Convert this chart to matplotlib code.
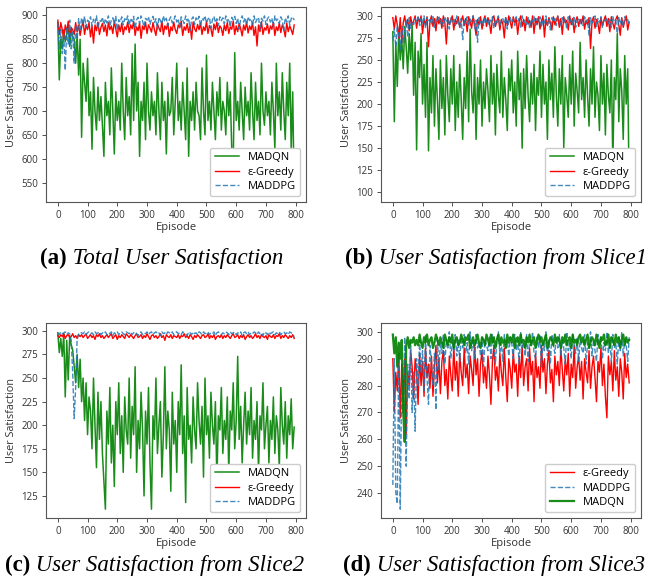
import numpy as np
import matplotlib
matplotlib.use("Agg")
import matplotlib.pyplot as plt

plt.rcParams['font.family'] = ['Open Sans', 'DejaVu Sans']

# episodes sampled every 5 steps
episodes = list(range(0, 800, 5))

# (a) total user satisfaction
total_madqn = [885, 765, 850, 830, 870, 845, 860, 880, 835, 870, 855, 850, 800, 860, 775, 850,
               645, 800, 760, 720, 810, 690, 740, 620, 770, 700, 660, 750, 680, 730, 670, 605,
               760, 690, 720, 650, 790, 700, 610, 740, 680, 720, 660, 800, 700, 640, 770, 690,
               730, 650, 820, 680, 840, 700, 760, 605, 720, 680, 760, 640, 800, 700, 660, 740,
               690, 720, 650, 780, 700, 640, 760, 680, 720, 610, 740, 690, 700, 770, 650, 720,
               800, 680, 720, 660, 760, 700, 640, 790, 605, 720, 680, 740, 660, 760, 700, 690,
               640, 790, 700, 650, 817, 680, 720, 660, 760, 700, 640, 740, 690, 770, 660, 720,
               700, 650, 760, 690, 740, 620, 590, 822, 680, 720, 660, 760, 700, 640, 750, 690,
               720, 660, 780, 700, 640, 760, 680, 720, 650, 800, 700, 670, 740, 690, 720, 650,
               760, 700, 620, 800, 690, 740, 660, 780, 700, 640, 760, 690, 800, 620, 740, 528]
total_greedy = [890, 860, 885, 870, 850, 880, 865, 888, 855, 875, 870, 860, 885, 865, 880, 858,
                875, 888, 860, 880, 870, 885, 855, 878, 842, 880, 868, 886, 860, 875, 883, 866,
                880, 857, 885, 870, 878, 862, 888, 872, 855, 880, 866, 884, 860, 876, 870, 886,
                864, 880, 872, 887, 858, 876, 868, 884, 852, 878, 870, 886, 862, 880, 874, 865,
                885, 870, 858, 882, 874, 866, 888, 860, 878, 871, 884, 856, 876, 868, 886, 870,
                862, 880, 874, 888, 858, 876, 869, 883, 864, 879, 850, 886, 872, 866, 881, 870,
                884, 860, 876, 868, 887, 862, 879, 872, 856, 882, 870, 886, 864, 878, 873, 858,
                880, 868, 885, 862, 876, 871, 888, 860, 878, 866, 883, 872, 857, 880, 869, 886,
                863, 878, 870, 884, 858, 876, 836, 880, 866, 887, 860, 874, 869, 882, 862, 878,
                871, 886, 858, 876, 868, 884, 864, 880, 872, 855, 884, 866, 878, 870, 860, 880]
total_maddpg = [885, 830, 870, 820, 860, 785, 875, 840, 890, 830, 865, 800, 880, 850, 893, 870,
                895, 882, 898, 875, 890, 886, 897, 878, 892, 884, 899, 872, 890, 887, 896, 880,
                893, 884, 899, 877, 890, 895, 882, 898, 869, 891, 886, 897, 880, 893, 888, 899,
                879, 894, 887, 898, 872, 891, 896, 883, 899, 888, 876, 894, 890, 897, 881, 892,
                898, 885, 893, 870, 896, 889, 882, 899, 887, 894, 878, 891, 897, 884, 890, 899,
                886, 893, 875, 897, 890, 883, 899, 888, 894, 868, 892, 897, 881, 895, 889, 898,
                877, 894, 890, 899, 884, 892, 896, 873, 891, 898, 885, 893, 879, 897, 889, 895,
                882, 899, 887, 893, 876, 896, 890, 898, 883, 894, 871, 892, 899, 886, 895, 880,
                897, 889, 893, 878, 899, 885, 892, 896, 870, 894, 888, 899, 881, 893, 897, 886,
                894, 876, 899, 889, 892, 883, 897, 890, 868, 895, 886, 899, 880, 893, 897, 890]

# (b) slice 1
s1_madqn = [282, 180, 270, 220, 285, 250, 275, 240, 288, 265, 235, 280, 250, 290, 210, 270,
            148, 260, 230, 280, 200, 245, 185, 270, 147, 230, 190, 255, 175, 240, 205, 160,
            250, 195, 230, 165, 255, 210, 180, 240, 200, 255, 170, 225, 185, 245, 205, 160,
            230, 195, 260, 180, 285, 215, 190, 245, 160, 230, 200, 250, 175, 225, 195, 240,
            215, 180, 255, 200, 235, 165, 245, 210, 190, 260, 185, 230, 205, 170, 240, 215,
            250, 190, 225, 175, 260, 205, 235, 150, 240, 195, 255, 210, 180, 235, 200, 245,
            170, 230, 210, 260, 185, 245, 200, 225, 160, 250, 205, 235, 185, 265, 210, 175,
            240, 200, 255, 150, 230, 210, 185, 245, 200, 260, 175, 235, 215, 190, 270, 205,
            230, 185, 250, 210, 175, 240, 200, 265, 185, 225, 210, 170, 255, 200, 235, 165,
            245, 210, 190, 250, 130, 230, 205, 280, 180, 240, 215, 160, 255, 200, 240, 99]
s1_greedy = [298, 285, 300, 290, 275, 298, 270, 292, 300, 288, 296, 283, 299, 290, 294, 300,
             286, 298, 293, 300, 280, 296, 290, 299, 265, 294, 300, 288, 297, 283, 299, 291,
             297, 286, 300, 292, 268, 298, 290, 295, 300, 284, 296, 291, 299, 287, 294, 300,
             289, 297, 282, 299, 293, 286, 300, 291, 278, 296, 290, 299, 285, 295, 300, 288,
             298, 292, 280, 297, 300, 288, 294, 299, 284, 296, 291, 275, 298, 289, 300, 293,
             286, 299, 292, 297, 279, 294, 300, 288, 296, 283, 299, 291, 295, 287, 300, 280,
             297, 290, 299, 285, 294, 300, 276, 296, 289, 298, 292, 284, 299, 290, 295, 300,
             287, 297, 279, 299, 292, 295, 284, 300, 290, 297, 281, 294, 299, 288, 296, 291,
             300, 285, 295, 290, 298, 263, 293, 299, 286, 296, 291, 280, 298, 289, 295, 300,
             288, 297, 282, 299, 292, 285, 296, 300, 290, 278, 298, 287, 294, 300, 284, 293]
s1_maddpg = [272, 285, 265, 290, 278, 262, 288, 270, 282, 295, 276, 298, 286, 293, 290, 297,
             294, 299, 289, 297, 292, 300, 286, 298, 293, 296, 290, 299, 287, 297, 294, 300,
             291, 296, 288, 299, 294, 297, 285, 298, 292, 296, 289, 300, 293, 287, 297, 273,
             296, 291, 299, 288, 297, 293, 300, 286, 295, 270, 298, 292, 296, 289, 299, 294,
             290, 297, 293, 299, 286, 296, 292, 300, 288, 295, 297, 291, 299, 285, 294, 298,
             292, 296, 289, 299, 294, 297, 287, 300, 292, 295, 290, 298, 286, 296, 293, 299,
             289, 297, 294, 299, 287, 295, 292, 300, 290, 296, 284, 298, 293, 297, 289, 299,
             295, 288, 298, 292, 296, 285, 299, 293, 297, 290, 300, 287, 295, 298, 291, 296,
             289, 299, 293, 296, 278, 298, 291, 295, 300, 288, 297, 292, 299, 286, 296, 294,
             298, 290, 296, 287, 299, 293, 295, 280, 298, 291, 297, 288, 299, 294, 296, 290]

# (c) slice 2
s2_madqn = [298, 277, 292, 273, 297, 230, 290, 248, 295, 285, 280, 262, 245, 275, 240, 270,
            225, 250, 205, 245, 190, 230, 215, 175, 250, 200, 155, 235, 185, 225, 170, 140,
            111, 215, 180, 240, 160, 200, 135, 225, 190, 245, 170, 210, 150, 230, 195, 180,
            250, 165, 220, 190, 262, 150, 205, 175, 235, 195, 125, 215, 180, 240, 160, 111,
            210, 185, 250, 170, 200, 225, 145, 190, 262, 175, 215, 195, 130, 235, 180, 205,
            150, 225, 190, 264, 170, 210, 118, 240, 185, 200, 160, 230, 195, 175, 245, 205,
            180, 220, 145, 250, 190, 210, 165, 235, 200, 180, 225, 140, 210, 195, 240, 170,
            205, 185, 230, 150, 215, 195, 245, 175, 205, 273, 185, 220, 160, 200, 235, 180,
            215, 190, 240, 165, 205, 185, 225, 150, 210, 195, 245, 175, 200, 220, 160, 205,
            185, 230, 170, 210, 195, 155, 240, 200, 180, 225, 165, 210, 190, 228, 175, 198]
s2_greedy = [295, 293, 296, 294, 297, 292, 295, 296, 293, 294, 297, 293, 295, 292, 296, 294,
             296, 293, 295, 297, 292, 294, 296, 293, 295, 291, 296, 294, 297, 293, 295, 292,
             294, 296, 293, 295, 297, 292, 294, 296, 291, 295, 293, 296, 294, 292, 297, 295,
             293, 296, 294, 292, 295, 297, 293, 294, 296, 292, 295, 293, 297, 294, 291, 295,
             296, 293, 295, 292, 294, 297, 293, 295, 290, 296, 294, 293, 296, 292, 295, 294,
             293, 296, 292, 295, 294, 297, 293, 295, 292, 296, 294, 291, 295, 293, 296, 294,
             292, 295, 296, 293, 294, 297, 292, 295, 293, 296, 291, 294, 295, 293, 296, 292,
             295, 293, 296, 294, 292, 295, 297, 293, 294, 296, 292, 295, 293, 296, 291, 294,
             296, 293, 295, 292, 294, 297, 293, 295, 292, 296, 294, 293, 295, 291, 296, 294,
             293, 296, 292, 295, 294, 297, 292, 295, 293, 296, 294, 292, 295, 293, 296, 292]
s2_maddpg = [298, 296, 299, 297, 298, 299, 296, 298, 297, 290, 255, 207, 240, 292, 297, 298,
             298, 297, 299, 296, 298, 299, 297, 298, 296, 299, 297, 298, 299, 296, 298, 297,
             299, 296, 298, 297, 299, 295, 298, 297, 299, 296, 298, 299, 297, 296, 299, 298,
             297, 299, 296, 298, 299, 297, 295, 298, 299, 296, 298, 297, 299, 296, 298, 299,
             296, 298, 299, 297, 298, 295, 299, 297, 298, 296, 299, 298, 297, 299, 296, 298,
             299, 297, 298, 296, 299, 298, 297, 295, 299, 298, 296, 299, 297, 298, 296, 299,
             298, 296, 299, 297, 298, 299, 296, 298, 297, 299, 295, 298, 299, 297, 296, 298,
             297, 299, 298, 296, 299, 297, 298, 299, 296, 298, 297, 299, 295, 298, 299, 297,
             299, 296, 298, 297, 299, 298, 296, 299, 297, 298, 295, 299, 298, 296, 299, 297,
             298, 299, 296, 298, 297, 299, 296, 298, 299, 297, 298, 296, 299, 298, 297, 293]

# (d) slice 3
s3_greedy = [290, 270, 285, 278, 292, 268, 288, 275, 290, 262, 285, 280, 293, 287, 275, 290,
             285, 273, 292, 280, 289, 276, 294, 283, 288, 279, 291, 276, 287, 295, 281, 290,
             277, 289, 293, 280, 286, 275, 291, 284, 278, 295, 282, 289, 276, 292, 285, 280,
             294, 283, 288, 277, 291, 286, 280, 295, 284, 290, 276, 288, 293, 281, 287, 279,
             291, 284, 273, 289, 295, 282, 287, 278, 292, 285, 280, 294, 283, 274, 290, 286,
             279, 293, 285, 288, 276, 291, 283, 295, 280, 287, 290, 278, 294, 284, 289, 274,
             292, 283, 287, 279, 295, 285, 290, 277, 288, 293, 281, 286, 274, 291, 284, 289,
             280, 294, 286, 278, 290, 284, 292, 276, 288, 283, 295, 279, 287, 291, 282, 289,
             275, 290, 285, 281, 293, 279, 287, 291, 283, 274, 289, 285, 294, 280, 288, 276,
             268, 291, 284, 289, 278, 293, 282, 287, 276, 290, 285, 275, 292, 283, 288, 281]
s3_maddpg = [243, 290, 240, 236, 292, 234, 285, 270, 298, 250, 288, 275, 296, 270, 285, 263,
             290, 280, 297, 285, 293, 278, 299, 283, 273, 295, 288, 280, 292, 271, 298, 286,
             296, 292, 299, 288, 297, 294, 300, 290, 296, 293, 299, 291, 297, 289, 298, 294,
             299, 292, 296, 288, 300, 293, 297, 290, 299, 294, 296, 291, 298, 287, 297, 295,
             293, 298, 290, 299, 295, 288, 297, 300, 292, 296, 289, 299, 294, 297, 291, 298,
             296, 290, 299, 293, 297, 288, 300, 294, 296, 291, 299, 289, 297, 295, 300, 292,
             290, 298, 294, 299, 287, 296, 293, 300, 291, 297, 288, 299, 295, 292, 298, 294,
             299, 291, 297, 294, 288, 300, 293, 296, 290, 299, 295, 292, 298, 289, 297, 294,
             292, 299, 288, 296, 294, 300, 291, 297, 293, 289, 299, 295, 298, 290, 296, 293,
             300, 292, 297, 289, 299, 294, 296, 288, 298, 293, 300, 291, 297, 295, 289, 298]
s3_madqn = [299, 292, 298, 287, 296, 290, 297, 270, 259, 295, 298, 294, 297, 296, 298, 295,
            297, 295, 299, 296, 294, 298, 296, 299, 295, 297, 298, 294, 296, 299, 297, 295,
            298, 296, 294, 299, 297, 295, 298, 296, 299, 294, 297, 298, 295, 296, 299, 297,
            295, 298, 297, 299, 294, 296, 298, 295, 297, 299, 296, 294, 298, 297, 295, 299,
            297, 295, 299, 296, 298, 294, 297, 299, 295, 298, 296, 297, 294, 299, 296, 298,
            296, 299, 294, 297, 298, 295, 299, 296, 297, 294, 298, 296, 299, 295, 297, 298,
            294, 297, 299, 296, 298, 295, 297, 299, 294, 296, 298, 297, 295, 299, 296, 298,
            297, 294, 298, 296, 299, 295, 297, 298, 294, 299, 296, 297, 295, 298, 299, 296,
            298, 295, 297, 299, 294, 296, 298, 297, 295, 299, 296, 294, 298, 297, 299, 295,
            296, 299, 294, 298, 297, 295, 299, 296, 298, 294, 297, 299, 295, 298, 296, 297]

W, H = 670, 577
fig = plt.figure(figsize=(W / 100, H / 100), dpi=100)

styles = {
    'MADQN': dict(color='green', lw=1.1, alpha=0.9),
    'ε-Greedy': dict(color='red', lw=1.0),
    'MADDPG': dict(color='tab:blue', lw=1.0, ls='--', alpha=0.85),
}

panels = [
    ((46, 7), [('MADQN', total_madqn), ('ε-Greedy', total_greedy), ('MADDPG', total_maddpg)]),
    ((381, 7), [('MADQN', s1_madqn), ('ε-Greedy', s1_greedy), ('MADDPG', s1_maddpg)]),
    ((46, 323), [('MADQN', s2_madqn), ('ε-Greedy', s2_greedy), ('MADDPG', s2_maddpg)]),
    ((381, 323), [('ε-Greedy', s3_greedy), ('MADDPG', s3_maddpg), ('MADQN', s3_madqn)]),
]

for (left, top), series in panels:
    ax = fig.add_axes([left / W, 1 - (top + 195) / H, 260 / W, 195 / H])
    for name, vals in series:
        st = dict(styles[name])
        if name == 'MADQN' and series[0][0] != 'MADQN':
            st['lw'] = 1.6
        ax.plot(episodes, vals, label=name, **st)
    ax.set_xticks([0, 100, 200, 300, 400, 500, 600, 700, 800])
    ax.tick_params(labelsize=7, length=3, width=0.6, colors='#333333', pad=2.5)
    for sp in ax.spines.values():
        sp.set_color('#555555')
        sp.set_linewidth(0.8)
    ax.set_xlabel('Episode', fontsize=8, color='#333333', labelpad=1)
    ax.set_ylabel('User Satisfaction', fontsize=7.8, color='#333333', labelpad=3)
    ax.legend(loc='lower right', fontsize=8, handlelength=2.2, borderpad=0.4,
              labelspacing=0.3, framealpha=1, edgecolor='#cccccc')

captions = [
    (40, 264, '(a)', 'Total User Satisfaction'),
    (345, 264, '(b)', 'User Satisfaction from Slice1'),
    (5, 571, '(c)', 'User Satisfaction from Slice2'),
    (343, 571, '(d)', 'User Satisfaction from Slice3'),
]
for x, y, tag, text in captions:
    t = fig.text(x / W, 1 - y / H, tag, fontsize=16.5, fontweight='bold',
                 family='Liberation Serif', va='baseline')
    plt.annotate(' ' + text, xy=(1, 0), xycoords=t, fontsize=16.5, style='italic',
                 family='Liberation Serif', va='bottom', ha='left',
                 annotation_clip=False)

fig.savefig('out.png', dpi=100)
